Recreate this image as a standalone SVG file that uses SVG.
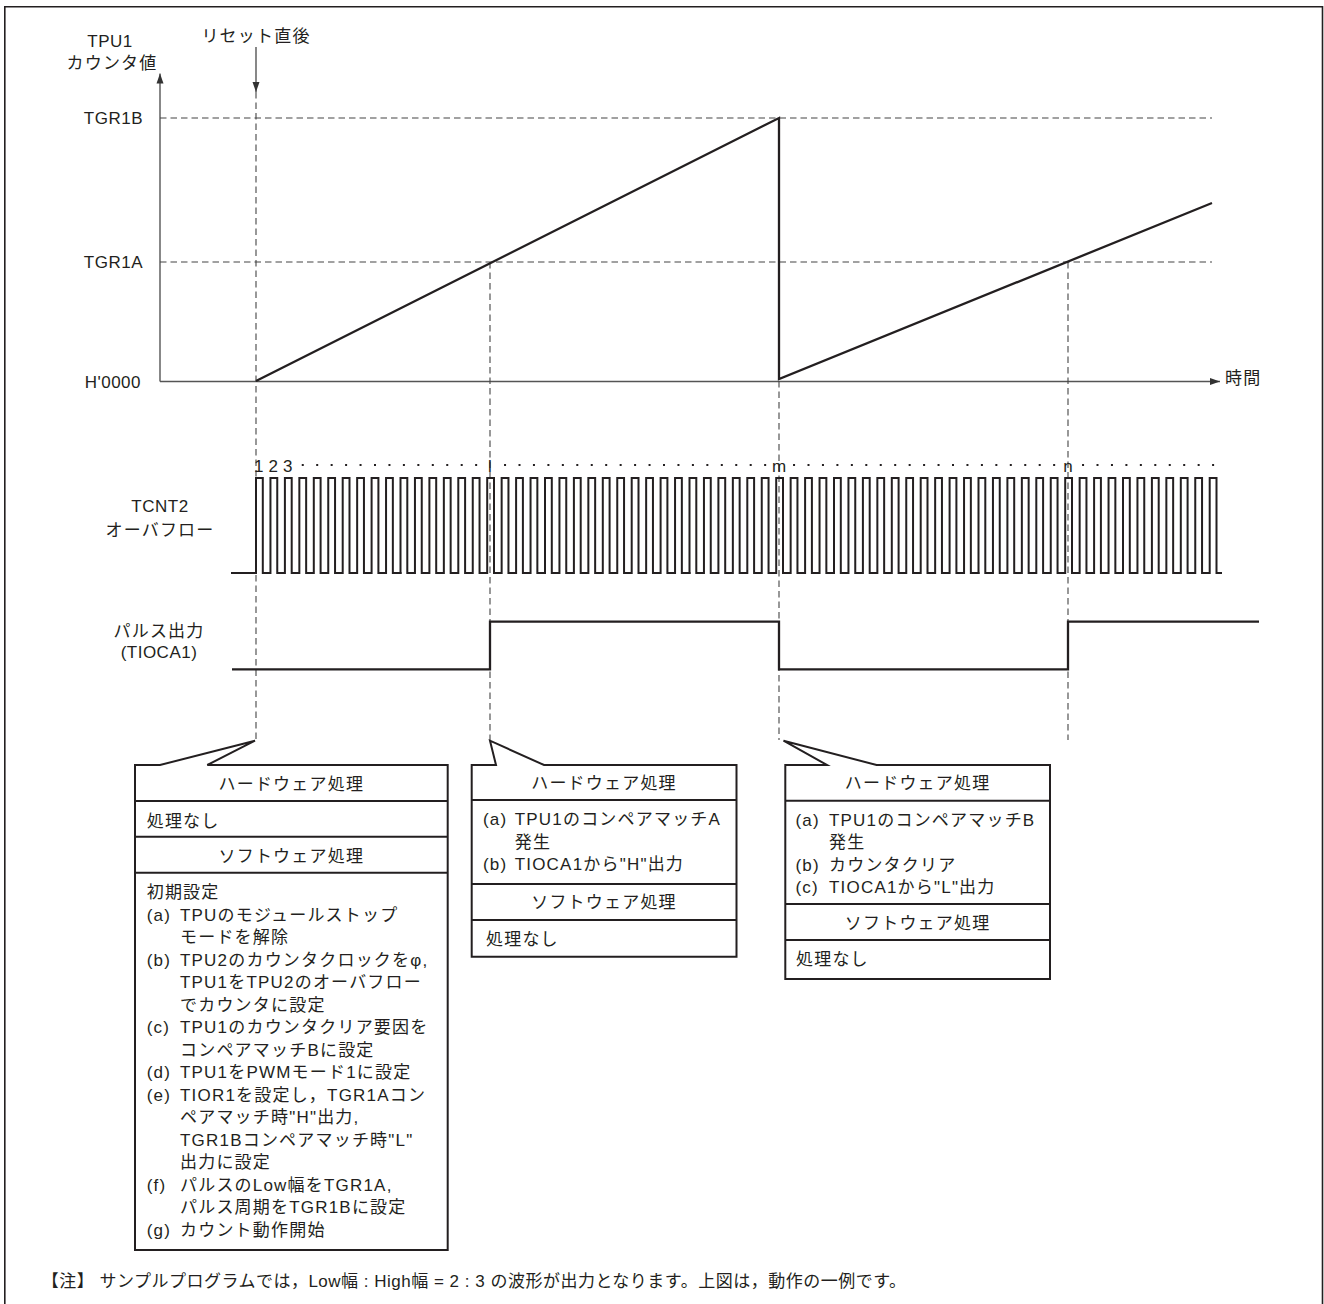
<svg xmlns="http://www.w3.org/2000/svg" width="1324" height="1304" viewBox="0 0 1324 1304">
<style>
text{font-family:"Liberation Sans","Noto Sans CJK JP",sans-serif;font-size:17px;fill:#231f20;letter-spacing:1.2px}
.c{text-anchor:middle}
.e{text-anchor:end}
.lat{letter-spacing:0.5px}
.ax{stroke:#555;stroke-width:1.4;fill:none}
.dash{stroke:#444;stroke-width:1.1;stroke-dasharray:6.5 4;fill:none}
.wave{stroke:#231f20;stroke-width:2.3;fill:none;stroke-linejoin:miter}
.pulse{stroke:#231f20;stroke-width:2;fill:none;stroke-linecap:square;stroke-linejoin:miter}
.box{fill:#fff;stroke:#231f20;stroke-width:2}
.div{stroke:#231f20;stroke-width:2}
.dots{stroke:#231f20;stroke-width:2;stroke-dasharray:2 12.45}
</style>
<defs>
<marker id="ah" markerUnits="userSpaceOnUse" markerWidth="10" markerHeight="8" refX="10" refY="4" orient="auto">
<path d="M0,0.5 L10,4 L0,7.5 Z" fill="#333"/>
</marker>
<path id="p10" d="M0,0 v-95h6.8v95h7.65 v-95h6.8v95h7.65 v-95h6.8v95h7.65 v-95h6.8v95h7.65 v-95h6.8v95h7.65 v-95h6.8v95h7.65 v-95h6.8v95h7.65 v-95h6.8v95h7.65 v-95h6.8v95h7.65 v-95h6.8v95h7.65"/>
</defs>
<rect width="1324" height="1304" fill="#fff"/>
<path d="M4.8,1304 V6.8 H1322.5 V1304" fill="none" stroke="#231f20" stroke-width="1.6"/>

<g id="axes">
<line class="ax" x1="160" y1="381.5" x2="160" y2="73.5" marker-end="url(#ah)"/>
<line class="ax" x1="160" y1="381.5" x2="1220" y2="381.5" marker-end="url(#ah)"/>
<text class="c lat" x="110" y="47">TPU1</text>
<text class="c" x="112" y="69">カウンタ値</text>
<text class="e lat" x="143" y="124">TGR1B</text>
<text class="e lat" x="143" y="268">TGR1A</text>
<text class="e lat" x="141" y="388">H'0000</text>
<text x="1225" y="383.5">時間</text>
</g>

<g id="reset-marker">
<text class="c" x="256" y="41.5">リセット直後</text>
<line class="ax" x1="256" y1="47" x2="256" y2="92" marker-end="url(#ah)"/>
</g>

<g id="connectors">
<line class="dash" x1="160" y1="118" x2="1212" y2="118"/>
<line class="dash" x1="160" y1="262" x2="1212" y2="262"/>
<line class="dash" x1="256" y1="92" x2="256" y2="740"/>
<line class="dash" x1="490" y1="262" x2="490" y2="740"/>
<line class="dash" x1="779" y1="381" x2="779" y2="740"/>
<line class="dash" x1="1068" y1="262" x2="1068" y2="740"/>
</g>

<g id="counter-wave">
<path class="wave" d="M256,381 L779,118 V379 L1212,203"/>
</g>

<g id="tcnt2">
<text class="c lat" x="160" y="512">TCNT2</text>
<text class="c" x="160" y="535.5">オーバフロー</text>
<path class="pulse" d="M232,573H256"/>
<use href="#p10" class="pulse" x="256" y="573"/>
<use href="#p10" class="pulse" x="400.5" y="573"/>
<use href="#p10" class="pulse" x="545" y="573"/>
<use href="#p10" class="pulse" x="689.5" y="573"/>
<use href="#p10" class="pulse" x="834" y="573"/>
<use href="#p10" class="pulse" x="978.5" y="573"/>
<path class="pulse" d="M1123,573 v-95h6.8v95h7.65 v-95h6.8v95h7.65 v-95h6.8v95h7.65 v-95h6.8v95h7.65 v-95h6.8v95h7.65 v-95h6.8v95h7.65 v-95h6.8v95H1221"/>
<g style="letter-spacing:0">
<text class="c" x="259.4" y="471.7" font-size="16">1</text>
<text class="c" x="273.9" y="471.7" font-size="16">2</text>
<text class="c" x="288.3" y="471.7" font-size="16">3</text>
<text class="c" x="490.6" y="471.7" font-size="16">l</text>
<text class="c" x="779.6" y="471.7" font-size="16">m</text>
<text class="c" x="1068.6" y="471.7" font-size="16">n</text>
</g>
<line class="dots" x1="301.75" y1="465" x2="477.15" y2="465"/>
<line class="dots" x1="504.05" y1="465" x2="766.15" y2="465"/>
<line class="dots" x1="793.05" y1="465" x2="1055.15" y2="465"/>
<line class="dots" x1="1082.05" y1="465" x2="1214.1" y2="465"/>
</g>

<g id="pulse-output">
<text class="c" x="159" y="637">パルス出力</text>
<text class="c lat" x="159" y="657.5">(TIOCA1)</text>
<path class="wave" d="M232,669.3 H490 V621.7 H779 V669.3 H1068 V621.7 H1259"/>
</g>

<g id="box-reset">
<path class="box" d="M135,765 H160 L255,740.7 L207.3,765 H447.7 V1250 H135 Z"/>
<line class="div" x1="135" y1="801" x2="447.7" y2="801"/>
<line class="div" x1="135" y1="836.7" x2="447.7" y2="836.7"/>
<line class="div" x1="135" y1="872.7" x2="447.7" y2="872.7"/>
<text class="c" x="291.3" y="790">ハードウェア処理</text>
<text x="146.7" y="826.5">処理なし</text>
<text class="c" x="291.3" y="862">ソフトウェア処理</text>
<text x="146.7" y="898">初期設定</text>
<text x="146.7" y="920.5">(a)</text><text x="180" y="920.5">TPUのモジュールストップ</text>
<text x="180" y="943">モードを解除</text>
<text x="146.7" y="965.5">(b)</text><text x="180" y="965.5">TPU2のカウンタクロックをφ,</text>
<text x="180" y="988">TPU1をTPU2のオーバフロー</text>
<text x="180" y="1010.5">でカウンタに設定</text>
<text x="146.7" y="1033">(c)</text><text x="180" y="1033">TPU1のカウンタクリア要因を</text>
<text x="180" y="1055.5">コンペアマッチBに設定</text>
<text x="146.7" y="1078">(d)</text><text x="180" y="1078">TPU1をPWMモード1に設定</text>
<text x="146.7" y="1100.5">(e)</text><text x="180" y="1100.5">TIOR1を設定し，TGR1Aコン</text>
<text x="180" y="1123">ペアマッチ時"H"出力,</text>
<text x="180" y="1145.5">TGR1Bコンペアマッチ時"L"</text>
<text x="180" y="1168">出力に設定</text>
<text x="146.7" y="1190.5">(f)</text><text x="180" y="1190.5">パルスのLow幅をTGR1A,</text>
<text x="180" y="1213">パルス周期をTGR1Bに設定</text>
<text x="146.7" y="1235.5">(g)</text><text x="180" y="1235.5">カウント動作開始</text>
</g>

<g id="box-match-a">
<path class="box" d="M471.7,765 H496 L490,740.7 L544,765 H736.5 V956.7 H471.7 Z"/>
<line class="div" x1="471.7" y1="800" x2="736.5" y2="800"/>
<line class="div" x1="471.7" y1="884" x2="736.5" y2="884"/>
<line class="div" x1="471.7" y1="920" x2="736.5" y2="920"/>
<text class="c" x="604" y="789">ハードウェア処理</text>
<text x="483" y="825">(a)</text><text x="514.7" y="825">TPU1のコンペアマッチA</text>
<text x="514.7" y="847.5">発生</text>
<text x="483" y="870">(b)</text><text x="514.7" y="870">TIOCA1から"H"出力</text>
<text class="c" x="604" y="908">ソフトウェア処理</text>
<text x="486" y="944.5">処理なし</text>
</g>

<g id="box-match-b">
<path class="box" d="M785.3,765 H827 L783.5,740.7 L876.6,765 H1050 V979 H785.3 Z"/>
<line class="div" x1="785.3" y1="800.7" x2="1050" y2="800.7"/>
<line class="div" x1="785.3" y1="904" x2="1050" y2="904"/>
<line class="div" x1="785.3" y1="940" x2="1050" y2="940"/>
<text class="c" x="917.6" y="789">ハードウェア処理</text>
<text x="795.5" y="825.5">(a)</text><text x="829" y="825.5">TPU1のコンペアマッチB</text>
<text x="829" y="848">発生</text>
<text x="795.5" y="870.5">(b)</text><text x="829" y="870.5">カウンタクリア</text>
<text x="795.5" y="893">(c)</text><text x="829" y="893">TIOCA1から"L"出力</text>
<text class="c" x="917.6" y="929">ソフトウェア処理</text>
<text x="796" y="964.5">処理なし</text>
</g>

<g id="note">
<text x="41.7" y="1287" font-size="15.5" style="letter-spacing:0.5px">【注】 サンプルプログラムでは，Low幅 : High幅 = 2 : 3 の波形が出力となります。上図は，動作の一例です。</text>
</g>
</svg>
